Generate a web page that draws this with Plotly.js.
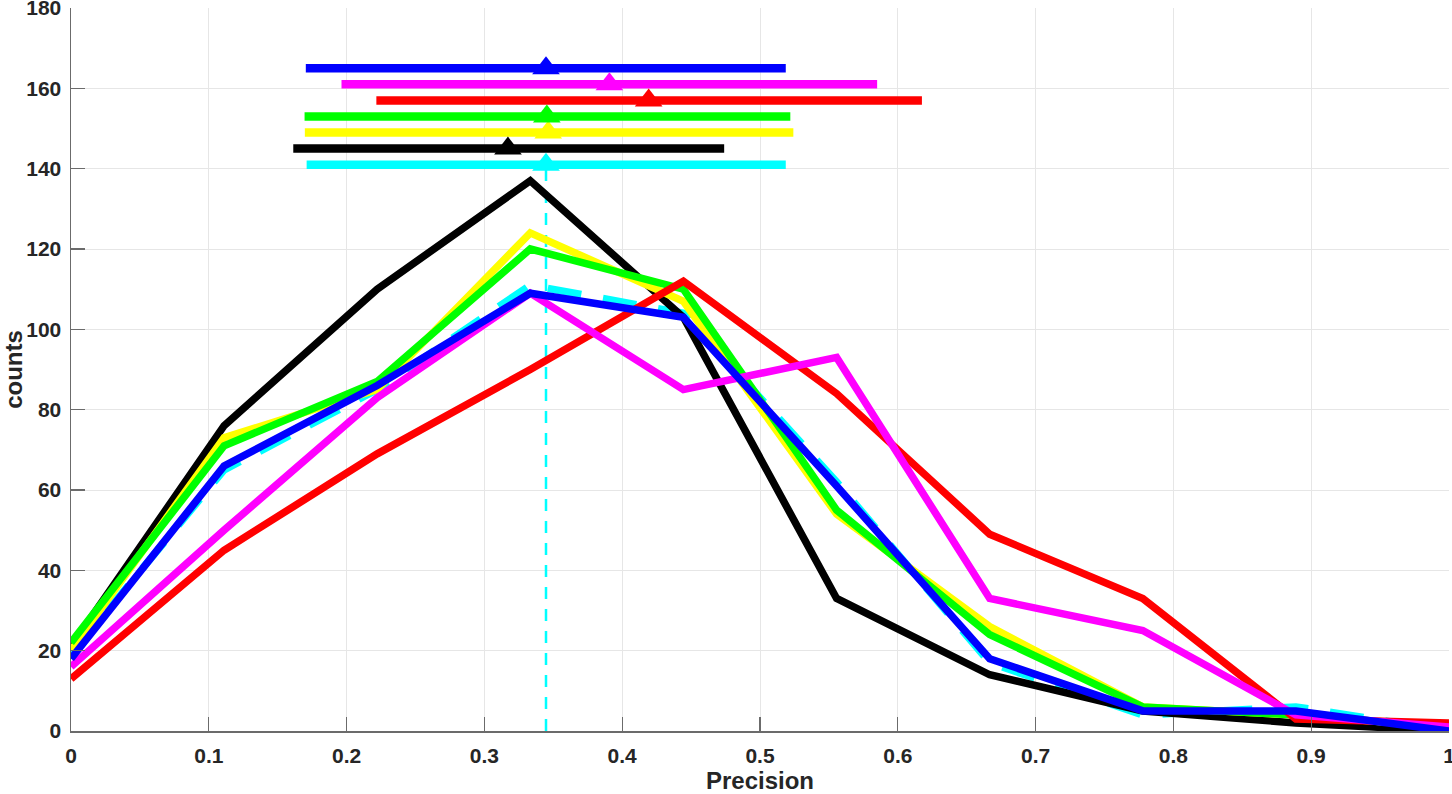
<!DOCTYPE html>
<html>
<head>
<meta charset="utf-8">
<script src="https://cdn.plot.ly/plotly-3.0.1.min.js"></script>
<style>
  html, body { margin: 0; padding: 0; background: #fff; overflow: hidden; }
  #chart { width: 1452px; height: 794px; }
</style>
</head>
<body>
<div id="chart"></div>
<script>
// Bin centres (Precision)
const precision = [0, 0.1111, 0.2222, 0.3333, 0.4444, 0.5556, 0.6667, 0.7778, 0.8889, 1];

// Series names / colours in drawing order
const seriesNames  = ['cyan', 'black', 'yellow', 'green', 'red', 'magenta', 'blue'];
const seriesColors = ['#00ffff', '#000000', '#ffff00', '#00ff00', '#ff0000', '#ff00ff', '#0000ff'];

// Counts per bin
const countsCyan    = [19, 65, 85, 111, 104, 62, 17, 4, 6, 0];
const countsBlack   = [21, 76, 110, 137, 103, 33, 14, 5, 2, 0];
const countsYellow  = [20, 73, 85, 124, 107, 54, 26, 6, 4, 1];
const countsGreen   = [22, 71, 87, 120, 110, 55, 24, 6, 4, 1];
const countsRed     = [13, 45, 69, 90, 112, 84, 49, 33, 3, 2];
const countsMagenta = [16, 50, 83, 109, 85, 93, 33, 25, 4, 1];
const countsBlue    = [18, 66, 86, 109, 103, 61, 18, 5, 5, 0];

// Summary bars: mean and spread (low / high) of precision, and level on the count axis
const summaryMean  = [0.3447, 0.3171, 0.3463, 0.3453, 0.4192, 0.3907, 0.3447];
const summaryLow   = [0.1710, 0.1613, 0.1697, 0.1695, 0.2216, 0.1963, 0.1704];
const summaryHigh  = [0.5187, 0.4740, 0.5242, 0.5220, 0.6175, 0.5850, 0.5187];
const summaryLevel = [141, 145, 149, 153, 157, 161, 165];

const xTicks = [0, 0.1, 0.2, 0.3, 0.4, 0.5, 0.6, 0.7, 0.8, 0.9, 1];
const yTicks = [0, 20, 40, 60, 80, 100, 120, 140, 160, 180];

const allCounts = [countsCyan, countsBlack, countsYellow, countsGreen, countsRed, countsMagenta, countsBlue];

const traces = [];

// vertical dashed reference line at the cyan mean
traces.push({
  x: [summaryMean[0], summaryMean[0]],
  y: [0, summaryLevel[0]],
  mode: 'lines', type: 'scatter', hoverinfo: 'skip', showlegend: false,
  line: { color: seriesColors[0], width: 2.5, dash: '12px,10px' }
});

// count curves
allCounts.forEach((c, i) => {
  traces.push({
    x: precision, y: c, name: seriesNames[i],
    mode: 'lines', type: 'scatter', showlegend: false,
    line: { color: seriesColors[i], width: 7.5, dash: i === 0 ? '34px,22px' : 'solid' }
  });
});

// summary bars + mean markers
summaryMean.forEach((m, i) => {
  traces.push({
    x: [summaryLow[i], summaryHigh[i]],
    y: [summaryLevel[i], summaryLevel[i]],
    mode: 'lines', type: 'scatter', showlegend: false, hoverinfo: 'skip',
    line: { color: seriesColors[i], width: 8.5 }
  });
});
summaryMean.forEach((m, i) => {
  traces.push({
    x: [m], y: [summaryLevel[i]],
    mode: 'markers', type: 'scatter', showlegend: false,
    marker: { symbol: 'triangle-up', size: 24, color: seriesColors[i], line: { width: 0 } }
  });
});

const fontFam = '"Liberation Sans", Arial, Helvetica, sans-serif';
const layout = {
  width: 1452, height: 794,
  margin: { l: 71, r: 3, t: 8, b: 63 },
  paper_bgcolor: '#ffffff', plot_bgcolor: '#ffffff',
  showlegend: false,
  font: { family: fontFam, color: '#262626' },
  xaxis: {
    range: [0, 1], tickvals: xTicks, ticktext: xTicks.map(String),
    showgrid: true, gridcolor: '#e6e6e6', gridwidth: 1,
    zeroline: false, showline: true, linecolor: '#6b6b6b', linewidth: 1.5,
    ticks: 'inside', ticklen: 14, tickcolor: '#6b6b6b', tickwidth: 1.2,
    tickfont: { family: fontFam, size: 21, weight: 'bold', color: '#262626' },
    ticklabelstandoff: 5, ticklabeloverflow: 'allow',
    title: { text: 'Precision', font: { family: fontFam, size: 24, weight: 'bold', color: '#262626' }, standoff: 15 }
  },
  yaxis: {
    range: [0, 180], tickvals: yTicks, ticktext: yTicks.map(String),
    showgrid: true, gridcolor: '#e6e6e6', gridwidth: 1,
    zeroline: false, showline: true, linecolor: '#6b6b6b', linewidth: 1.5,
    ticks: 'inside', ticklen: 14, tickcolor: '#6b6b6b', tickwidth: 1.2,
    tickfont: { family: fontFam, size: 21, weight: 'bold', color: '#262626' },
    ticklabelstandoff: 4, ticklabeloverflow: 'allow',
    title: { text: 'counts', font: { family: fontFam, size: 24, weight: 'bold', color: '#262626' }, standoff: 6 }
  }
};

Plotly.newPlot('chart', traces, layout, { displayModeBar: false, staticPlot: true });
</script>
</body>
</html>
